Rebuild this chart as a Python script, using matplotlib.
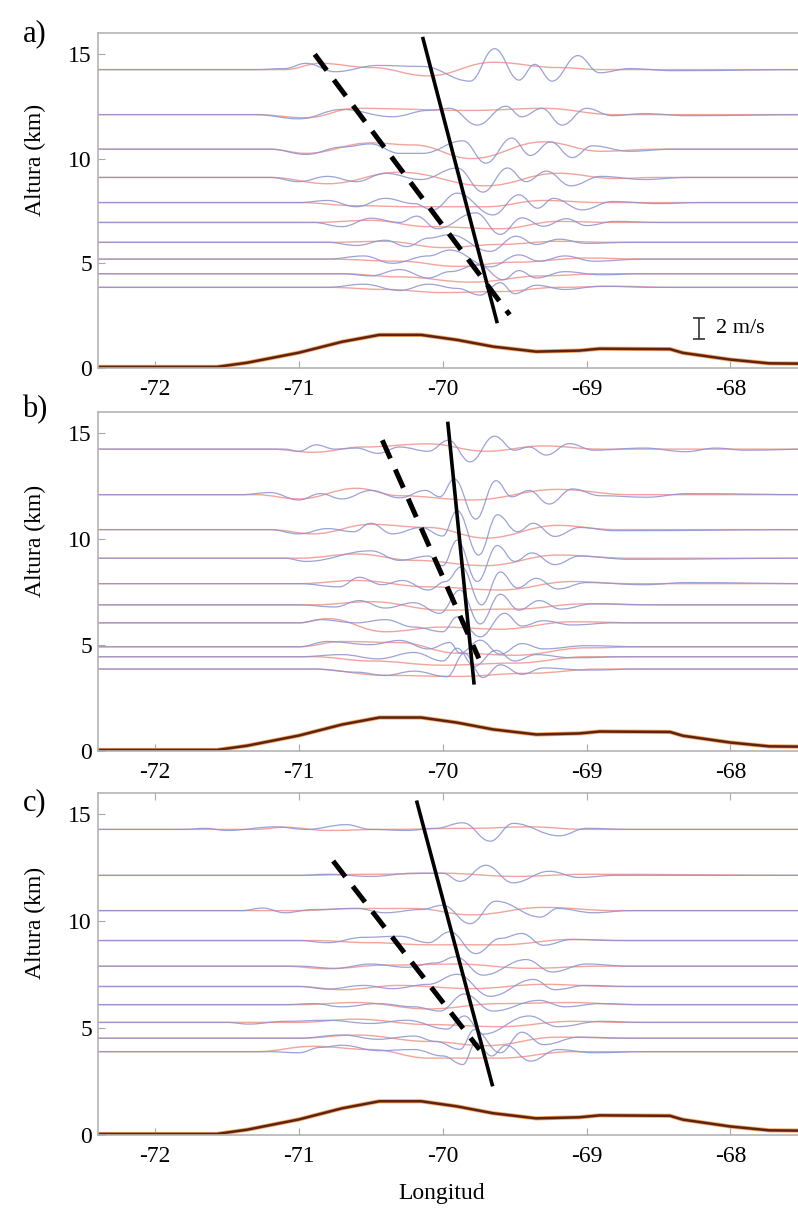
import matplotlib
matplotlib.use("Agg")
import matplotlib.pyplot as plt
from matplotlib.path import Path
from matplotlib.patches import PathPatch

plt.rcParams['font.family'] = ['Liberation Serif', 'DejaVu Serif']
plt.rcParams['axes.unicode_minus'] = False

# longitude / topography (km) along the cross section
topo_lon = [-72.4, -71.57, -71.36, -71.0, -70.7, -70.44, -70.15, -69.9, -69.65,
            -69.35, -69.05, -68.91, -68.42, -68.33, -68.0, -67.73, -67.4]
topo_alt = [0.05, 0.05, 0.25, 0.73, 1.25, 1.58, 1.58, 1.34, 1.02,
            0.78, 0.83, 0.92, 0.9, 0.72, 0.4, 0.22, 0.2]

# ---- panel a) ----
levels_a = [14.25, 12.1, 10.45, 9.1, 7.9, 6.95, 6.0, 5.2, 4.5, 3.85]
red_a = [
    [(-72.4, 0), (-71.1, 0), (-70.85, 0.3), (-70.5, 0.1), (-70.1, -0.3), (-69.65, 0.35), (-69.2, 0.1), (-68.9, 0), (-67.4, 0)],
    [(-72.4, 0), (-71.3, 0), (-70.95, -0.15), (-70.6, 0.3), (-69.8, 0.2), (-69.3, 0.3), (-68.8, 0), (-67.4, 0)],
    [(-72.4, 0), (-71.2, 0), (-70.95, -0.2), (-70.5, 0.3), (-70.2, 0.2), (-69.8, -0.45), (-69.3, 0.35), (-68.9, -0.1), (-68.5, 0), (-67.4, 0)],
    [(-72.4, 0), (-71.2, 0), (-70.8, -0.3), (-70.3, 0.25), (-69.7, -0.4), (-69.2, 0.2), (-68.8, -0.05), (-68.5, 0), (-67.4, 0)],
    [(-72.4, 0), (-71.0, 0), (-70.6, -0.15), (-70.2, -0.2), (-69.7, -0.2), (-69.3, 0.1), (-68.9, 0), (-67.4, 0)],
    [(-72.4, 0), (-70.9, 0), (-70.5, 0.1), (-70.1, -0.2), (-69.6, -0.3), (-69.2, 0.05), (-68.8, 0), (-67.4, 0)],
    [(-72.4, 0), (-70.8, 0), (-70.4, 0.05), (-70.0, -0.25), (-69.6, -0.1), (-69.2, 0.05), (-68.8, 0), (-67.4, 0)],
    [(-72.4, 0), (-70.8, 0), (-70.3, -0.1), (-69.9, -0.35), (-69.5, -0.15), (-69.0, 0.05), (-68.6, 0), (-67.4, 0)],
    [(-72.4, 0), (-70.7, 0), (-70.3, -0.15), (-69.8, -0.4), (-69.3, -0.1), (-68.9, 0), (-67.4, 0)],
    [(-72.4, 0), (-70.8, 0), (-70.4, -0.1), (-70.0, -0.25), (-69.6, -0.2), (-69.2, 0), (-68.8, 0.05), (-68.4, 0), (-67.4, 0)],
]
blue_a = [
    [(-72.4, 0), (-71.3, 0), (-71.1, 0.05), (-70.95, 0.3), (-70.75, -0.1), (-70.45, 0.2), (-70.14, 0.15), (-69.81, -0.55), (-69.64, 1.0),
     (-69.47, -0.5), (-69.36, 0.25), (-69.24, -0.55), (-69.06, 0.67), (-68.91, -0.15), (-68.7, 0.05), (-68.4, -0.05), (-67.4, 0)],
    [(-72.4, 0), (-71.3, 0), (-71.0, -0.2), (-70.7, 0.25), (-70.35, -0.1), (-70.1, 0.2), (-69.95, 0.3), (-69.76, -0.5), (-69.56, 0.4),
     (-69.45, -0.1), (-69.31, 0.3), (-69.17, -0.5), (-69.0, 0.3), (-68.82, -0.05), (-68.6, 0.05), (-68.3, -0.05), (-67.4, 0)],
    [(-72.4, 0), (-71.2, 0), (-70.95, -0.25), (-70.7, 0.1), (-70.5, 0.25), (-70.3, -0.2), (-70.14, -0.2), (-69.86, 0.4), (-69.7, -0.67),
     (-69.52, 0.53), (-69.39, -0.3), (-69.25, 0.35), (-69.1, -0.4), (-68.96, 0.16), (-68.7, -0.1), (-68.4, 0), (-67.4, 0)],
    [(-72.4, 0), (-71.2, 0), (-71.0, -0.2), (-70.8, 0.05), (-70.6, -0.2), (-70.4, 0.2), (-70.15, -0.1), (-69.9, 0.45), (-69.72, -0.7),
     (-69.55, 0.45), (-69.42, -0.2), (-69.28, 0.3), (-69.11, -0.4), (-68.9, 0.05), (-68.6, -0.1), (-68.3, 0), (-67.4, 0)],
    [(-72.4, 0), (-71.0, 0), (-70.8, 0.1), (-70.6, -0.2), (-70.4, 0.2), (-70.2, -0.05), (-70.07, -0.35), (-69.9, 0.45), (-69.65, -0.59),
     (-69.47, 0.37), (-69.34, -0.27), (-69.23, 0.2), (-69.03, -0.35), (-68.82, 0.05), (-68.5, -0.05), (-68.2, 0), (-67.4, 0)],
    [(-72.4, 0), (-70.9, 0), (-70.7, -0.2), (-70.5, 0.2), (-70.3, 0.0), (-70.18, 0.3), (-70.04, -0.3), (-69.77, 0.46), (-69.6, -0.57),
     (-69.45, 0.22), (-69.3, -0.18), (-69.14, 0.18), (-69.0, -0.15), (-68.8, 0.05), (-68.5, 0), (-67.4, 0)],
    [(-72.4, 0), (-70.8, 0), (-70.6, -0.15), (-70.4, 0.1), (-70.25, -0.2), (-70.1, 0.2), (-69.95, 0.37), (-69.67, -0.43), (-69.49, 0.29),
     (-69.35, -0.1), (-69.19, 0.15), (-69.0, -0.05), (-68.7, 0), (-67.4, 0)],
    [(-72.4, 0), (-70.8, 0), (-70.55, 0.15), (-70.35, -0.2), (-70.1, 0.15), (-69.95, 0.43), (-69.67, -0.37), (-69.47, 0.2), (-69.33, -0.1),
     (-69.15, 0.15), (-68.95, -0.1), (-68.6, 0), (-67.4, 0)],
    [(-72.4, 0), (-70.7, 0), (-70.5, -0.1), (-70.3, 0.2), (-70.1, -0.2), (-69.95, 0.1), (-69.75, 0.43), (-69.58, -0.29), (-69.47, 0.15),
     (-69.35, -0.2), (-69.15, 0.1), (-68.9, -0.05), (-68.6, 0), (-67.4, 0)],
    [(-72.4, 0), (-70.8, 0), (-70.55, 0.15), (-70.3, -0.15), (-70.1, 0.15), (-69.9, -0.05), (-69.74, -0.37), (-69.6, 0.22), (-69.5, -0.3),
     (-69.35, 0.1), (-69.15, -0.1), (-68.9, 0.05), (-68.5, 0), (-67.4, 0)],
]
solid_a = [(-70.137, 15.73), (-69.624, 2.22)]
dashed_a = [(-70.89, 14.98), (-69.535, 2.54)]

# ---- panel b) ----
levels_b = [14.25, 12.1, 10.45, 9.1, 7.9, 6.9, 6.05, 4.92, 4.45, 3.87]
red_b = [
    [(-72.4, 0), (-71.2, 0), (-70.9, -0.15), (-70.55, 0.1), (-70.1, 0.25), (-69.7, -0.1), (-69.3, 0.15), (-68.9, 0), (-67.4, 0)],
    [(-72.4, 0), (-71.3, 0), (-71.0, -0.2), (-70.6, 0.3), (-70.3, -0.05), (-69.8, -0.25), (-69.2, 0.25), (-68.7, 0), (-67.4, 0)],
    [(-72.4, 0), (-71.2, 0), (-70.9, -0.2), (-70.5, 0.25), (-70.1, 0.1), (-69.7, -0.4), (-69.2, 0.2), (-68.8, 0), (-67.4, 0)],
    [(-72.4, 0), (-71.0, 0), (-70.6, 0.2), (-70.2, -0.1), (-69.7, -0.35), (-69.2, 0.15), (-68.7, 0), (-67.4, 0)],
    [(-72.4, 0), (-71.0, 0), (-70.6, 0.15), (-70.1, -0.15), (-69.6, -0.3), (-69.1, 0.1), (-68.7, 0), (-67.4, 0)],
    [(-72.4, 0), (-70.9, 0), (-70.5, 0.15), (-70.0, -0.25), (-69.5, -0.2), (-69.0, 0.05), (-68.6, 0), (-67.4, 0)],
    [(-72.4, 0), (-71.0, 0), (-70.8, 0.2), (-70.4, -0.42), (-70.0, -0.2), (-69.6, -0.3), (-69.1, 0.05), (-68.6, 0), (-67.4, 0)],
    [(-72.4, 0), (-71.0, 0), (-70.7, 0.25), (-70.3, 0.2), (-69.9, -0.3), (-69.5, -0.4), (-69.0, -0.05), (-68.6, 0), (-67.4, 0)],
    [(-72.4, 0), (-70.9, 0), (-70.5, -0.2), (-70.0, -0.4), (-69.5, -0.3), (-69.0, 0), (-67.4, 0)],
    [(-72.4, 0), (-70.9, 0), (-70.4, -0.3), (-69.9, -0.35), (-69.4, -0.2), (-68.9, 0), (-67.4, 0)],
]
blue_b = [
    [(-72.4, 0), (-71.1, 0), (-71.0, -0.1), (-70.88, 0.2), (-70.75, 0.0), (-70.6, 0.05), (-70.45, -0.2), (-70.3, 0.1), (-70.1, -0.1),
     (-69.96, 0.42), (-69.81, -0.6), (-69.64, 0.61), (-69.5, -0.05), (-69.4, 0.1), (-69.28, -0.28), (-69.12, 0.26), (-68.95, -0.05),
     (-68.6, 0.05), (-68.31, -0.12), (-68.1, 0.05), (-67.9, -0.05), (-67.4, 0)],
    [(-72.4, 0), (-71.4, 0), (-71.2, 0.1), (-71.0, -0.25), (-70.85, 0.05), (-70.7, -0.2), (-70.5, 0.2), (-70.3, -0.15), (-70.12, 0.2),
     (-70.02, -0.1), (-69.92, 0.74), (-69.77, -1.15), (-69.63, 0.66), (-69.52, -0.1), (-69.4, 0.2), (-69.26, -0.44), (-69.1, 0.27),
     (-68.9, -0.05), (-68.58, -0.12), (-68.3, 0.05), (-67.4, 0)],
    [(-72.4, 0), (-71.2, 0), (-71.0, -0.2), (-70.8, 0.05), (-70.62, -0.1), (-70.5, 0.3), (-70.35, -0.2), (-70.15, 0.1), (-70.0, -0.3),
     (-69.9, 0.9), (-69.75, -1.2), (-69.62, 0.7), (-69.48, -0.1), (-69.37, 0.3), (-69.22, -0.32), (-69.05, 0.1), (-68.8, -0.05), (-67.4, 0)],
    [(-72.4, 0), (-71.1, 0), (-70.95, -0.15), (-70.5, 0.35), (-70.3, -0.1), (-70.1, 0.1), (-70.0, -0.35), (-69.9, 0.85), (-69.76, -1.1),
     (-69.62, 0.6), (-69.5, -0.15), (-69.38, 0.25), (-69.22, -0.3), (-69.05, 0.1), (-68.7, -0.05), (-67.4, 0)],
    [(-72.4, 0), (-71.0, 0), (-70.72, -0.15), (-70.58, 0.3), (-70.42, -0.05), (-70.28, 0.15), (-70.1, -0.3), (-69.98, 0.1),
     (-69.87, 0.8), (-69.73, -1.0), (-69.6, 0.55), (-69.48, -0.2), (-69.35, 0.25), (-69.2, -0.25), (-69.0, 0.05), (-68.6, -0.05),
     (-68.3, 0.05), (-67.4, 0)],
    [(-72.4, 0), (-71.0, 0), (-70.75, -0.1), (-70.58, 0.2), (-70.4, -0.15), (-70.2, 0.1), (-70.02, -0.4), (-69.88, 0.7), (-69.74, -0.9),
     (-69.6, 0.5), (-69.47, -0.25), (-69.33, 0.2), (-69.18, -0.2), (-68.95, 0.05), (-68.5, 0), (-67.4, 0)],
    [(-72.4, 0), (-71.0, 0), (-70.85, 0.15), (-70.6, 0.0), (-70.4, 0.15), (-70.2, -0.2), (-70.0, -0.42), (-69.9, 0.28), (-69.74, -0.66),
     (-69.57, 0.45), (-69.45, -0.15), (-69.3, 0.1), (-69.1, -0.1), (-68.8, 0), (-67.4, 0)],
    [(-72.4, 0), (-71.0, 0), (-70.8, 0.25), (-70.5, 0.1), (-70.3, 0.3), (-70.1, -0.1), (-69.95, 0.2), (-69.88, -0.3), (-69.74, 0.31),
     (-69.6, -0.35), (-69.45, 0.15), (-69.3, -0.1), (-69.0, 0.05), (-68.6, 0), (-67.4, 0)],
    [(-72.4, 0), (-71.0, 0), (-70.7, 0.1), (-70.45, -0.1), (-70.2, 0.2), (-70.0, -0.2), (-69.9, 0.4), (-69.78, -0.45), (-69.63, 0.3),
     (-69.5, -0.2), (-69.35, 0.1), (-69.1, -0.05), (-68.7, 0), (-67.4, 0)],
    [(-72.4, 0), (-70.9, 0), (-70.6, -0.15), (-70.4, -0.3), (-70.2, -0.1), (-69.97, -0.36), (-69.85, 0.74), (-69.72, -0.4), (-69.6, 0.2),
     (-69.45, -0.25), (-69.3, 0.05), (-69.0, -0.05), (-68.6, 0), (-67.4, 0)],
]
solid_b = [(-69.964, 15.46), (-69.783, 3.22)]
dashed_b = [(-70.42, 14.67), (-69.749, 4.37)]

# ---- panel c) ----
levels_c = [14.3, 12.15, 10.5, 9.1, 7.9, 6.95, 6.1, 5.27, 4.53, 3.9]
red_c = [
    [(-72.4, 0), (-71.3, 0), (-71.1, 0.1), (-70.8, -0.05), (-70.4, 0.0), (-69.8, 0.05), (-69.4, 0.12), (-69.0, 0), (-67.4, 0)],
    [(-72.4, 0), (-71.0, 0), (-70.5, 0.05), (-70.0, 0.1), (-69.5, -0.05), (-69.0, 0.05), (-67.4, 0)],
    [(-72.4, 0), (-71.0, 0), (-70.6, 0.1), (-70.2, 0.1), (-69.8, -0.2), (-69.3, 0.15), (-68.8, 0), (-67.4, 0)],
    [(-72.4, 0), (-70.9, 0), (-70.5, -0.1), (-70.1, -0.2), (-69.6, -0.2), (-69.1, 0.05), (-68.7, 0), (-67.4, 0)],
    [(-72.4, 0), (-71.1, 0), (-70.8, -0.12), (-70.4, 0.05), (-69.9, 0.1), (-69.4, -0.1), (-68.9, 0), (-67.4, 0)],
    [(-72.4, 0), (-71.0, 0), (-70.7, -0.15), (-70.3, 0.05), (-69.8, -0.1), (-69.3, 0.1), (-68.8, 0), (-67.4, 0)],
    [(-72.4, 0), (-71.0, 0), (-70.6, 0.1), (-70.1, -0.2), (-69.6, 0.05), (-69.1, 0.1), (-68.7, 0), (-67.4, 0)],
    [(-72.4, 0), (-71.0, 0), (-70.6, 0.15), (-70.1, -0.1), (-69.6, -0.2), (-69.1, 0.05), (-68.7, 0), (-67.4, 0)],
    [(-72.4, 0), (-71.0, 0), (-70.6, 0.15), (-70.1, -0.15), (-69.7, -0.35), (-69.2, 0.05), (-68.7, 0), (-67.4, 0)],
    [(-72.4, 0), (-71.3, 0), (-70.9, 0.25), (-70.5, 0.1), (-70.1, -0.3), (-69.6, -0.3), (-69.1, 0), (-67.4, 0)],
]
blue_c = [
    [(-72.4, 0), (-71.8, 0), (-71.65, 0.05), (-71.5, -0.05), (-71.16, 0.12), (-70.95, 0.0), (-70.67, 0.22), (-70.5, 0.0),
     (-70.25, -0.05), (-70.05, 0.05), (-69.86, 0.31), (-69.67, -0.55), (-69.51, 0.28), (-69.19, -0.3), (-69.0, 0.05), (-68.7, 0), (-67.4, 0)],
    [(-72.4, 0), (-71.0, 0), (-70.8, 0.05), (-70.5, -0.05), (-70.2, 0.1), (-70.0, 0.1), (-69.88, -0.28), (-69.7, 0.47), (-69.51, -0.35),
     (-69.26, 0.19), (-69.05, -0.1), (-68.8, 0), (-67.4, 0)],
    [(-72.4, 0), (-71.4, 0), (-71.25, 0.12), (-71.1, -0.1), (-70.9, 0.05), (-70.6, 0.1), (-70.4, -0.1), (-70.15, 0.05), (-70.0, 0.25),
     (-69.81, -0.61), (-69.63, 0.44), (-69.32, -0.3), (-69.2, 0.1), (-68.95, -0.1), (-68.7, 0), (-67.4, 0)],
    [(-72.4, 0), (-71.0, 0), (-70.8, -0.1), (-70.55, 0.15), (-70.3, 0.2), (-70.1, -0.1), (-69.95, 0.41), (-69.77, -0.61), (-69.6, 0.1),
     (-69.45, 0.33), (-69.3, -0.22), (-69.1, 0.05), (-68.8, 0), (-67.4, 0)],
    [(-72.4, 0), (-71.0, 0), (-70.75, -0.1), (-70.5, 0.1), (-70.25, -0.05), (-70.05, 0.15), (-69.91, 0.44), (-69.72, -0.42),
     (-69.42, 0.31), (-69.24, -0.27), (-69.0, 0.1), (-68.7, 0), (-67.4, 0)],
    [(-72.4, 0), (-71.0, 0), (-70.8, -0.12), (-70.55, 0.05), (-70.35, -0.1), (-70.1, 0.1), (-69.9, 0.57), (-69.67, -0.46),
     (-69.37, 0.33), (-69.22, -0.15), (-69.0, 0.05), (-68.7, 0), (-67.4, 0)],
    [(-72.4, 0), (-71.1, 0), (-70.9, 0.05), (-70.7, -0.1), (-70.45, 0.05), (-70.2, -0.1), (-70.02, -0.3), (-69.85, 0.5), (-69.65, -0.3),
     (-69.33, 0.2), (-69.15, -0.1), (-68.9, 0.05), (-68.6, 0), (-67.4, 0)],
    [(-72.4, 0), (-71.5, 0), (-71.35, -0.08), (-71.1, 0.05), (-70.8, 0.1), (-70.5, -0.05), (-70.25, 0.1), (-69.97, -0.31), (-69.85, 0.3),
     (-69.72, -0.55), (-69.4, 0.3), (-69.2, -0.2), (-68.9, 0.05), (-68.6, 0), (-67.4, 0)],
    [(-72.4, 0), (-71.0, 0), (-70.7, 0.15), (-70.45, -0.05), (-70.2, 0.1), (-70.05, -0.15), (-69.88, -0.52), (-69.78, 0.4), (-69.6, -0.68),
     (-69.45, 0.28), (-69.3, -0.3), (-69.05, 0.05), (-68.7, 0), (-67.4, 0)],
    [(-72.4, 0), (-71.2, 0), (-71.0, -0.05), (-70.85, 0.2), (-70.7, 0.3), (-70.45, 0.05), (-70.2, 0.1), (-70.0, -0.2), (-69.86, -0.6),
     (-69.77, 0.42), (-69.66, -0.2), (-69.56, 0.3), (-69.39, -0.44), (-69.2, 0.1), (-68.95, -0.05), (-68.6, 0), (-67.4, 0)],
]
solid_c = [(-70.179, 15.57), (-69.656, 2.36)]
dashed_c = [(-70.762, 12.82), (-69.744, 4.0)]

panel_labels = ["a)", "b)", "c)"]
xticks = [-72, -71, -70, -69, -68]
yticks = [0, 5, 10, 15]


def wave_path(pts, level):
    # smooth curve through the extrema (flat tangent at every point)
    verts = [(pts[0][0], level + pts[0][1])]
    codes = [Path.MOVETO]
    for (x0, y0), (x1, y1) in zip(pts[:-1], pts[1:]):
        d = (x1 - x0) * 0.4
        verts += [(x0 + d, level + y0), (x1 - d, level + y1), (x1, level + y1)]
        codes += [Path.CURVE4] * 3
    return Path(verts, codes)


fig = plt.figure(figsize=(7.98, 12.08), dpi=100)

# axes boxes in figure fraction (left, bottom, width, height)
boxes = [[0.1222, 0.6954, 0.8778, 0.2773],
         [0.1222, 0.3783, 0.8778, 0.2806],
         [0.1222, 0.0604, 0.8778, 0.2831]]
label_y = [1 - 34 / 1208, 1 - 410 / 1208, 1 - 803 / 1208]

panels = [(levels_a, red_a, blue_a, solid_a, dashed_a),
          (levels_b, red_b, blue_b, solid_b, dashed_b),
          (levels_c, red_c, blue_c, solid_c, dashed_c)]

for i, (levels, reds, blues, solid, dashed) in enumerate(panels):
    ax = fig.add_axes(boxes[i])

    for lev, r, b in zip(levels, reds, blues):
        ax.add_patch(PathPatch(wave_path(r, lev), fill=False, edgecolor="#f2a49c", lw=1.0))
        ax.add_patch(PathPatch(wave_path(b, lev), fill=False, edgecolor="#8c92d0", lw=0.9, alpha=0.85))

    # topography with thin orange edge
    ax.plot(topo_lon, topo_alt, color="#f3a466", lw=3.0, solid_capstyle="butt")
    ax.plot(topo_lon, topo_alt, color="#5e2410", lw=1.8)

    ax.plot([p[0] for p in solid], [p[1] for p in solid], color="black", lw=2.6)
    ax.plot([p[0] for p in dashed], [p[1] for p in dashed], color="black", lw=3.6,
            dashes=(4.0, 2.4))

    ax.set_xlim(-72.4, -67.53)
    ax.set_ylim(0, 16)
    ax.set_xticks(xticks)
    ax.set_yticks(yticks)
    ax.tick_params(direction="in", length=5, color="#a8a8a8", labelsize=17)
    ax.tick_params(axis="x", pad=8, top=(i == 2))
    ax.tick_params(axis="y", pad=4)
    for s in ["left", "bottom", "top"]:
        ax.spines[s].set_color("#b4b4b4")
        ax.spines[s].set_linewidth(1.2)
    ax.spines["right"].set_visible(False)

    ax.set_ylabel("Altura (km)", fontsize=17)
    ax.yaxis.set_label_coords(-0.074, 0.62)

    fig.text(0.044, label_y[i], panel_labels[i], fontsize=22, ha="center", va="center")

    if i == 0:
        ax.errorbar([-68.22], [1.87], yerr=[0.5], color="#333333", lw=1.2, capsize=4, capthick=1.2)
        ax.text(-68.1, 1.87, "2 m/s", fontsize=16, va="center", ha="left")

fig.text(442 / 798, 1 - 1193 / 1208, "Longitud", fontsize=17, ha="center", va="center")

fig.savefig("out.png", dpi=100)
